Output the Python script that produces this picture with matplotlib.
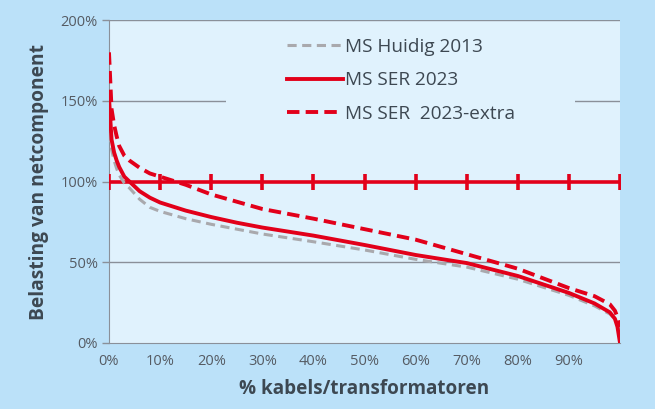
import matplotlib
matplotlib.use("Agg")
import matplotlib.pyplot as plt
from matplotlib.patches import Rectangle
from matplotlib.ticker import PercentFormatter

# % of cables/transformers (sorted, duration curve)
pct = [0, 0.5, 1, 1.5, 2, 3, 4, 6, 8, 10, 15, 20, 25, 30, 40, 50, 60, 70, 80, 90, 95, 98, 99, 99.5, 100]

# load as % of rated capacity
huidig_2013 = [130, 120, 113, 108, 104, 99, 96, 89, 84, 81.5, 77, 73.5, 70.5, 67.5, 62.7, 57.6,
               51.8, 47, 39.5, 29.5, 23, 18, 15, 12, 5]
ser_2023 = [152, 126, 118, 113, 109, 103, 100, 94, 90, 87, 82, 78, 74.5, 71.5, 66.5, 60.7,
            54.5, 49.5, 41.5, 31, 24.5, 19, 15, 10, 0]
ser_2023_extra = [180, 145, 135, 128, 122, 116, 113, 108.5, 105, 103, 98, 92, 87.5, 83, 77, 70.5,
                  64, 55, 46, 34, 29, 24, 20, 16, 10]

limit_x = list(range(0, 101, 10))
limit_y = [100] * len(limit_x)

xticks = list(range(0, 91, 10))
yticks = [0, 50, 100, 150, 200]

RED = "#E2001A"
GREY = "#A9A9AD"
OUTER = "#BBE1F9"
INNER = "#E0F2FD"
TXT = "#3D4852"

plt.rcParams["font.family"] = ["Open Sans", "DejaVu Sans"]

fig = plt.figure(figsize=(6.55, 4.09), dpi=100, facecolor=OUTER)
ax = fig.add_axes([0.1664, 0.1614, 0.7802, 0.7896], facecolor=INNER)

for y in [50, 150, 200]:
    ax.axhline(y, color="#8A9099", lw=1, zorder=1)

# legend background hides the 150% grid line
ax.add_patch(Rectangle((0.228, 0.67), 0.683, 0.3, transform=ax.transAxes,
                       facecolor=INNER, edgecolor="none", zorder=2))

ax.plot(limit_x, limit_y, color=RED, lw=2.6, marker="|", ms=11, mew=2.6, zorder=3)
ax.plot(pct, huidig_2013, color=GREY, lw=2.2, ls=(0, (3, 1.8)), zorder=4, label="MS Huidig 2013")
ax.plot(pct, ser_2023, color=RED, lw=2.8, zorder=5, label="MS SER 2023")
ax.plot(pct, ser_2023_extra, color=RED, lw=2.8, ls=(0, (3.2, 1.6)), zorder=6, label="MS SER  2023-extra")

ax.set_xlim(0, 100)
ax.set_ylim(0, 200)
ax.set_xticks(xticks)
ax.set_yticks(yticks)
ax.xaxis.set_major_formatter(PercentFormatter(decimals=0))
ax.yaxis.set_major_formatter(PercentFormatter(decimals=0))
ax.tick_params(axis="x", length=0, pad=8, labelsize=10.5, labelcolor="#555B63")
ax.tick_params(axis="y", length=5, width=1, color="#8A9099", pad=3, labelsize=10.5, labelcolor="#555B63")

for s in ["top", "right"]:
    ax.spines[s].set_visible(False)
for s in ["left", "bottom"]:
    ax.spines[s].set_color("#8A9099")

ax.set_xlabel("% kabels/transformatoren", fontsize=13.6, fontweight="bold", color=TXT, labelpad=7)
ax.set_ylabel("Belasting van netcomponent", fontsize=13.8, fontweight="bold", color=TXT, labelpad=8)

ax.legend(loc="upper left", bbox_to_anchor=(0.314, 0.997), frameon=False, fontsize=13.7,
          handlelength=2.95, handletextpad=0.12, labelspacing=0.8, borderpad=0.4, labelcolor=TXT)

fig.savefig("out.png", dpi=100, facecolor=OUTER)
